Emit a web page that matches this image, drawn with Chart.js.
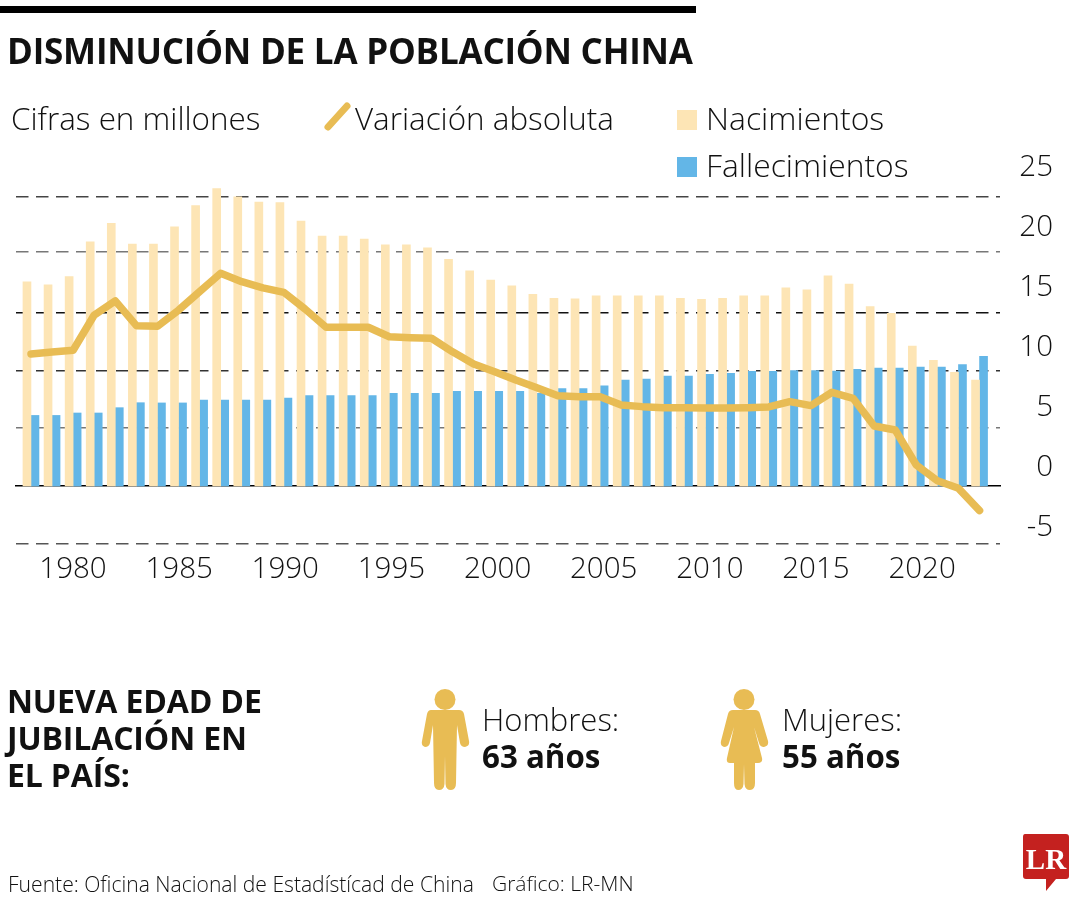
<!DOCTYPE html>
<html lang="es">
<head>
<meta charset="utf-8">
<title>Disminución de la población china</title>
<script src="https://cdn.jsdelivr.net/npm/chart.js@4"></script>
<style>
    html, body { margin: 0; padding: 0; background: #fff; }
    #page { position: relative; width: 1080px; height: 900px; overflow: hidden; font-family: "Open Sans", sans-serif; color: #111; }
    #page canvas { position: absolute; left: 0; top: 0; }
    #page svg { position: absolute; left: 0; top: 0; }
    .txt { position: absolute; white-space: nowrap; font-weight: 300; }
    .bold { font-weight: 700; }
</style>
</head>
<body>
<div id="page">
    <canvas id="chart" width="1080" height="620"></canvas>
    <svg width="1080" height="900" viewBox="0 0 1080 900">
        <rect x="0" y="6" width="696" height="7" fill="#000"/>
        <line x1="328" y1="127" x2="347" y2="106" stroke="#E8BC54" stroke-width="7" stroke-linecap="round"/>
        <rect x="677" y="110" width="20" height="20" fill="#FDE5B5"/>
        <rect x="677" y="157" width="20" height="20" fill="#63B6E7"/>
        <!-- man icon -->
        <circle cx="445" cy="699.5" r="10.5" fill="#E8BC54"/>
        <path fill="#E8BC54" d="M431 710 L459 710 Q463 710 464 714 L469 741 Q470 746 465 747 Q461 747 460 743 L457 725 L456 783 Q456 790 451 790 Q446 790 445.5 784 L445 756 L444.5 784 Q444 790 439 790 Q434 790 434 783 L433 725 L430 743 Q429 747 425 747 Q421 746 422 741 L427 714 Q428 710 431 710Z"/>
        <!-- woman icon -->
        <circle cx="744" cy="699.5" r="10.5" fill="#E8BC54"/>
        <path fill="#E8BC54" d="M733 710 L755 710 Q759 710 760 714 L768 741 Q769 746 764 747 Q760 747 759 743 L754 727 L762 758 Q763 763 758 763 L755 763 L755 783 Q755 790 750 790 Q745 790 744.5 784 L744 764 L743.5 784 Q743 790 738 790 Q734 790 734 783 L734 763 L730 763 Q726 763 727 758 L734 727 L729 743 Q728 747 724 747 Q720 746 721 741 L728 714 Q729 710 733 710Z"/>
        <!-- LR logo -->
        <path fill="#C4211F" d="M1025 834 L1066 834 Q1069 834 1069 837 L1069 876 Q1069 879 1066 879 L1056 879 L1046 891 L1046 879 L1026 879 Q1023 879 1023 876 L1023 837 Q1023 834 1025 834Z"/>
        <text x="1046" y="869" text-anchor="middle" font-family="'Liberation Serif', serif" font-weight="700" font-size="29" fill="#fff">LR</text>
    </svg>

    <div class="txt bold" style="left:7px;top:27px;font-size:35px;letter-spacing:-0.22px;">DISMINUCIÓN DE LA POBLACIÓN CHINA</div>
    <div class="txt" style="left:11px;top:96px;font-size:31.4px;">Cifras en millones</div>
    <div class="txt" style="left:355px;top:96px;font-size:31.4px;">Variación absoluta</div>
    <div class="txt" style="left:706px;top:96px;font-size:31.9px;">Nacimientos</div>
    <div class="txt" style="left:706px;top:143px;font-size:31.8px;">Fallecimientos</div>

    <div class="txt bold" style="left:7px;top:682px;font-size:32px;line-height:37px;letter-spacing:-0.15px;">NUEVA EDAD DE<br>JUBILACIÓN EN<br>EL PAÍS:</div>
    <div class="txt" style="left:482px;top:698px;font-size:31px;">Hombres:</div>
    <div class="txt bold" style="left:482px;top:735px;font-size:31.3px;">63 años</div>
    <div class="txt" style="left:782px;top:698px;font-size:31px;">Mujeres:</div>
    <div class="txt bold" style="left:782px;top:735px;font-size:31.3px;">55 años</div>

    <div class="txt" style="left:8px;top:869px;font-size:21.1px;">Fuente: Oficina Nacional de Estadístícad de China</div>
    <div class="txt" style="left:492px;top:869px;font-size:21px;">Gráfico: LR-MN</div>
</div>

<script>
// Values, in millions
const years = [1978, 1979, 1980, 1981, 1982, 1983, 1984, 1985, 1986, 1987, 1988, 1989,
    1990, 1991, 1992, 1993, 1994, 1995, 1996, 1997, 1998, 1999, 2000, 2001, 2002, 2003,
    2004, 2005, 2006, 2007, 2008, 2009, 2010, 2011, 2012, 2013, 2014, 2015, 2016, 2017,
    2018, 2019, 2020, 2021, 2022, 2023];

const nacimientos = [17.64, 17.38, 18.1, 21.1, 22.7, 20.92, 20.92, 22.4, 24.24, 25.7, 25.0, 24.55,
    24.5, 22.9, 21.6, 21.6, 21.35, 20.84, 20.84, 20.58, 19.6, 18.6, 17.8, 17.3, 16.57, 16.22,
    16.17, 16.43, 16.43, 16.43, 16.43, 16.22, 16.14, 16.22, 16.43, 16.43, 17.12, 16.95, 18.16, 17.46,
    15.5, 14.93, 12.1, 10.86, 9.83, 9.16];

const fallecimientos = [6.1, 6.1, 6.31, 6.31, 6.77, 7.2, 7.18, 7.18, 7.43, 7.43, 7.43, 7.43,
    7.61, 7.81, 7.81, 7.81, 7.81, 8.01, 8.01, 8.01, 8.18, 8.18, 8.18, 8.18, 8.01, 8.41,
    8.41, 8.65, 9.16, 9.25, 9.51, 9.51, 9.65, 9.74, 9.91, 9.91, 9.97, 9.97, 9.94, 10.09,
    10.2, 10.2, 10.29, 10.29, 10.49, 11.21];

const variacion = [11.41, 11.59, 11.73, 14.78, 16.0, 13.86, 13.8, 15.2, 16.8, 18.39, 17.66, 17.12,
    16.74, 15.3, 13.72, 13.72, 13.72, 12.9, 12.82, 12.77, 11.6, 10.55, 9.88, 9.16, 8.5, 7.81,
    7.72, 7.72, 7.0, 6.86, 6.77, 6.77, 6.74, 6.74, 6.77, 6.83, 7.29, 6.95, 8.1, 7.58,
    5.19, 4.84, 1.82, 0.46, -0.2, -2.13];

// Dashed guide lines are not evenly spaced in the original, 20 sits a bit high
const gridValues = [-5, 5, 10, 15, 20.22, 25];
const gridColors = ['#555', '#777', '#333', '#111', '#777', '#444'];
const yLabels = [-5, 0, 5, 10, 15, 20, 25];
const xLabels = [1980, 1985, 1990, 1995, 2000, 2005, 2010, 2015, 2020];

function pairs(values) {
    return values.map((v, i) => ({ x: years[i], y: v }));
}

const labelFont = { family: '"Open Sans", sans-serif', size: 29.5, weight: '300' };

new Chart(document.getElementById('chart'), {
    type: 'bar',
    data: {
        datasets: [
            {
                type: 'line',
                label: 'Variación absoluta',
                data: pairs(variacion),
                borderColor: '#E8BC54',
                borderWidth: 7.5,
                borderCapStyle: 'round',
                borderJoinStyle: 'round',
                pointRadius: 0,
                tension: 0,
                order: 0,
                xAxisID: 'x',
                yAxisID: 'y'
            },
            {
                label: 'Nacimientos',
                data: pairs(nacimientos),
                backgroundColor: '#FDE5B5',
                barThickness: 8,
                order: 1,
                xAxisID: 'x',
                yAxisID: 'y'
            },
            {
                label: 'Fallecimientos',
                data: pairs(fallecimientos),
                backgroundColor: '#63B6E7',
                barThickness: 8,
                order: 1,
                xAxisID: 'x',
                yAxisID: 'y'
            }
        ]
    },
    options: {
        responsive: false,
        animation: false,
        layout: { padding: { top: 160, left: 16, right: 27, bottom: 27 } },
        plugins: { legend: { display: false }, tooltip: { enabled: false } },
        scales: {
            // Bars and line; the axis line itself is the solid zero line
            x: {
                type: 'linear',
                position: { y: 0 },
                offset: false,
                min: 1977.29,
                max: 2023.97,
                grid: { display: false, drawTicks: false },
                border: { display: true, color: '#000', width: 1.5 },
                ticks: { display: false }
            },
            // Year labels drift slightly from the bars, so they get their own axis
            x2: {
                type: 'linear',
                axis: 'x',
                position: 'bottom',
                offset: false,
                bounds: 'data',
                min: 1977.314,
                max: 2023.67,
                afterBuildTicks: scale => {
                    scale.ticks = xLabels.map(v => ({ value: v }));
                },
                afterFit: scale => { scale.height = 45; },
                grid: { display: false, drawTicks: false },
                border: { display: false },
                ticks: {
                    autoSkip: false,
                    maxRotation: 0,
                    padding: 4,
                    color: '#111',
                    font: labelFont,
                    callback: value => String(value)
                }
            },
            y: {
                type: 'linear',
                position: 'left',
                min: -5.36,
                max: 28.18,
                afterBuildTicks: scale => {
                    scale.ticks = gridValues.map(v => ({ value: v }));
                },
                grid: {
                    drawTicks: false,
                    lineWidth: 1.5,
                    color: ctx => gridColors[ctx.index]
                },
                border: { display: false, dash: [12.5, 7.5] },
                ticks: { display: false }
            },
            // Right hand labels sit above the guide lines and use a wider step
            y2: {
                type: 'linear',
                axis: 'y',
                position: 'right',
                min: -6.708,
                max: 25.625,
                afterBuildTicks: scale => {
                    scale.ticks = yLabels.map(v => ({ value: v }));
                },
                afterFit: scale => { scale.width = 53; },
                grid: { display: false, drawTicks: false },
                border: { display: false },
                ticks: {
                    padding: 0,
                    color: '#111',
                    font: labelFont,
                    autoSkip: false,
                    crossAlign: 'far',
                    callback: value => String(value)
                }
            }
        }
    }
});
</script>
</body>
</html>
